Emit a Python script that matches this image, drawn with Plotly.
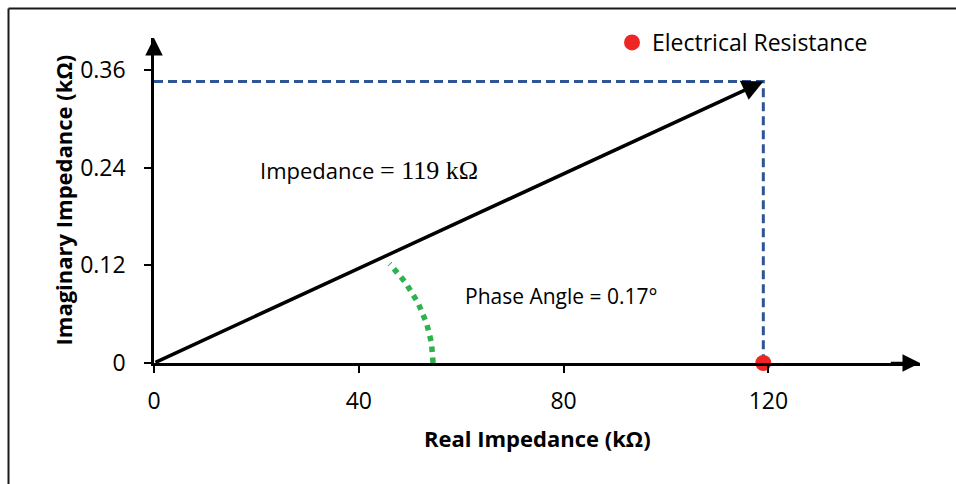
import math
import numpy as np
import plotly.graph_objects as go

# Impedance of the sample (kOhm)
real_part = 119.0       # electrical resistance
imag_part = 0.3456      # reactance

x_ticks = [0, 40, 80, 120]
y_ticks = [0, 0.12, 0.24, 0.36]
x_tick_text = ["0", "40", "80", "120"]
y_tick_text = ["0", "0.12", "0.24", "0.36"]

x_max = 149.6
y_max = 0.399

magnitude = math.hypot(real_part, imag_part)
phase_deg = math.degrees(math.atan2(imag_part, real_part))

W, H = 956, 484
ML, MR, MT, MB = 154, 36, 38, 121
PW, PH = W - ML - MR, H - MT - MB

def px_to_paper_x(px):
    return (px - ML) / PW

def px_to_paper_y(py):
    return (H - MB - py) / PH

FONT = "Open Sans"
fig = go.Figure()

# projections of the impedance vector onto the axes
fig.add_trace(go.Scatter(
    x=[0, real_part, real_part], y=[imag_part, imag_part, 0],
    mode="lines", line=dict(color="#2f5597", width=3, dash="9px,5px"),
    showlegend=False, hoverinfo="skip", cliponaxis=False,
))

# phase-angle arc (elliptical in data units so it looks round on screen)
rx, ry = 54.5, 0.2275
t_end = math.atan((imag_part / real_part) * (rx / ry)) * 0.93
t = np.linspace(0, t_end, 60)
fig.add_trace(go.Scatter(
    x=rx * np.cos(t), y=ry * np.sin(t), mode="lines",
    line=dict(color="#2db24c", width=5.5, dash="dot"),
    showlegend=False, hoverinfo="skip", cliponaxis=False,
))

# resistance marker on the real axis
fig.add_trace(go.Scatter(
    x=[real_part], y=[0], mode="markers",
    marker=dict(color="#ee2524", size=16),
    name="Electrical Resistance", cliponaxis=False,
))

annotations = []
# impedance vector
annotations.append(dict(
    x=real_part, y=imag_part, ax=0, ay=0, xref="x", yref="y",
    axref="x", ayref="y", text="", showarrow=True,
    arrowhead=2, arrowsize=1.2, arrowwidth=3.5, arrowcolor="black",
))
# axis arrows
annotations.append(dict(
    x=x_max, y=0, ax=x_max - 6, ay=0, xref="x", yref="y",
    axref="x", ayref="y", text="", showarrow=True,
    arrowhead=2, arrowsize=1.4, arrowwidth=2.5, arrowcolor="black",
))
annotations.append(dict(
    x=0, y=y_max, ax=0, ay=y_max - 0.02, xref="x", yref="y",
    axref="x", ayref="y", text="", showarrow=True,
    arrowhead=2, arrowsize=1.4, arrowwidth=2.5, arrowcolor="black",
))

annotations.append(dict(
    x=20.3, y=0.237, xref="x", yref="y", xanchor="left", yanchor="middle",
    showarrow=False,
    text=("Impedance <span style=\"font-family:'Liberation Serif';"
          f"font-size:26px\">= {magnitude:.0f} kΩ</span>"),
    font=dict(family=FONT, size=22, color="black"),
))
annotations.append(dict(
    x=60.3, y=0.082, xref="x", yref="y", xanchor="left", yanchor="middle",
    showarrow=False, text=f"Phase Angle = {phase_deg:.2f}°",
    font=dict(family=FONT, size=21, color="black"),
))

# axis titles
annotations.append(dict(
    x=0.5, y=px_to_paper_y(438), xref="paper", yref="paper",
    xanchor="center", yanchor="middle", showarrow=False,
    text="<b>Real Impedance (kΩ)</b>",
    font=dict(family=FONT, size=22, color="black"),
))
annotations.append(dict(
    x=px_to_paper_x(62), y=0.5, xref="paper", yref="paper",
    xanchor="center", yanchor="middle", showarrow=False, textangle=-90,
    text="<b>Imaginary Impedance (kΩ)</b>",
    font=dict(family=FONT, size=22, color="black"),
))

# outer frame (top and left edges)
frame = dict(type="line", xref="paper", yref="paper",
             line=dict(color="#1a1a1a", width=2))
shapes = [
    dict(frame, x0=px_to_paper_x(8.5), x1=px_to_paper_x(W + 2),
         y0=px_to_paper_y(8.5), y1=px_to_paper_y(8.5)),
    dict(frame, x0=px_to_paper_x(8.5), x1=px_to_paper_x(8.5),
         y0=px_to_paper_y(8.5), y1=px_to_paper_y(H + 2)),
]

axis_common = dict(
    showgrid=False, zeroline=False, showline=True, linecolor="black",
    linewidth=2.5, ticks="outside", ticklen=7, tickwidth=2,
    tickcolor="black", tickfont=dict(family=FONT, size=23, color="black"),
)

fig.update_layout(
    width=W, height=H,
    margin=dict(l=ML, r=MR, t=MT, b=MB),
    paper_bgcolor="white", plot_bgcolor="white",
    xaxis=dict(axis_common, range=[0, x_max], tickvals=x_ticks,
               ticktext=x_tick_text, ticklabelstandoff=9),
    yaxis=dict(axis_common, range=[0, y_max], tickvals=y_ticks,
               ticktext=y_tick_text, ticklabelstandoff=14),
    legend=dict(x=px_to_paper_x(612), y=px_to_paper_y(21),
                xanchor="left", yanchor="top",
                font=dict(family=FONT, size=23, color="black"),
                bgcolor="rgba(0,0,0,0)"),
    annotations=annotations, shapes=shapes,
)

fig.write_html("out.html")
